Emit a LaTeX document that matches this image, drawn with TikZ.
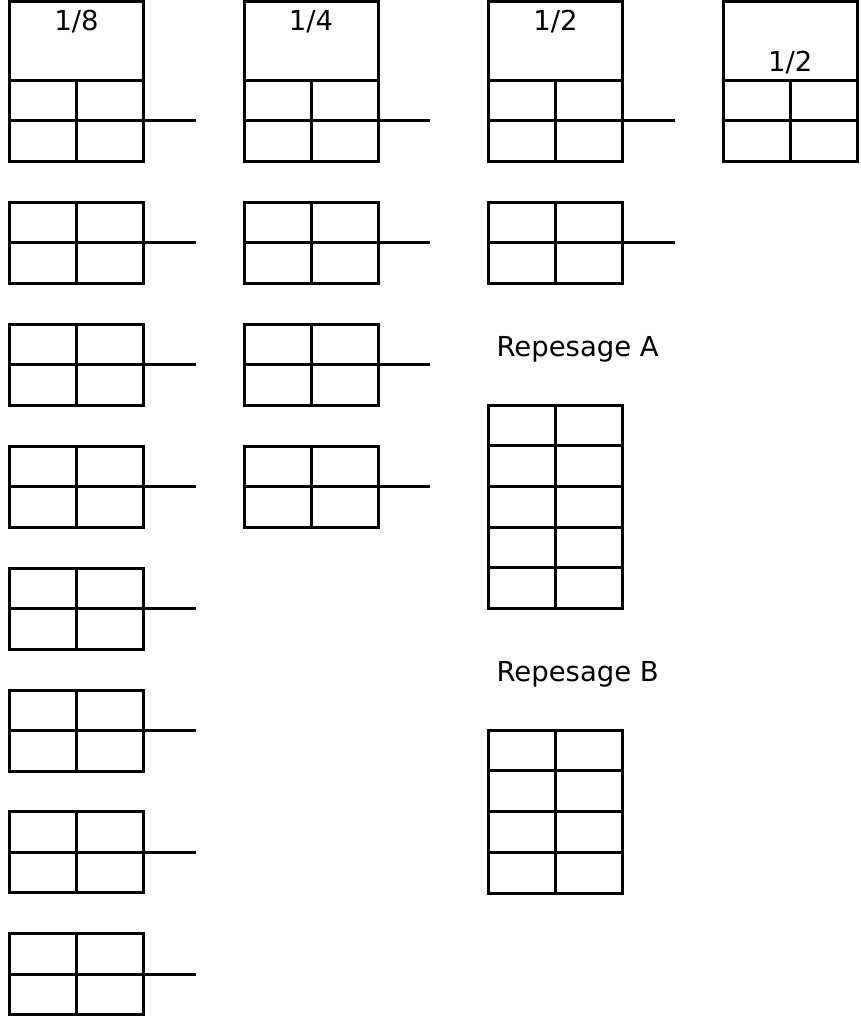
\documentclass[tikz,border=0pt]{standalone}
\usepackage{fontspec}
\setmainfont{DejaVu Sans}
\tikzset{
  gridline/.style={line width=3pt},
  lbl/.style={font=\fontsize{27.5}{33}\selectfont,inner sep=0pt,anchor=base},
}
\begin{document}
\begin{tikzpicture}[x=1pt,y=-1pt,gridline]
 \useasboundingbox (0,0) rectangle (861,1019);
 % headers
 \draw (9.5,2) rectangle (143.5,80.5);
 \node[lbl] (h8) at (76.5,30.5) {1/8};
 \draw (244,2) rectangle (378,80.5);
 \node[lbl] (h4) at (311,30.5) {1/4};
 \draw (488.5,2) rectangle (622.5,80.5);
 \node[lbl] (h2) at (555.5,30.5) {1/2};
 \draw (723.5,2) rectangle (857,80.5);
 \node[lbl] (h2f) at (790.2,72) {1/2};
 % pairs with their lines
 \foreach \x/\n in {9.5/8,244/4,488.5/2} {
  \foreach \k in {1,...,\n} {
   \pgfmathsetmacro\y{121+121.9*(\k-1)}
   \draw (\x,\y-40.5) rectangle (\x+134,\y+40.5);
   \draw (\x+67,\y-40.5) -- (\x+67,\y+40.5);
   \draw (\x,\y) -- (\x+186,\y);
  }
 }
 \draw (723.5,80.5) rectangle (857,161.5);
 \draw (790.2,80.5) -- (790.2,161.5);
 \draw (723.5,121) -- (857,121);
 % repesage A
 \node[lbl,anchor=base west] (repA) at (495,356) {Repesage A};
 \draw (488.5,405) rectangle (622.5,608.5);
 \draw (555.5,405) -- (555.5,608.5);
 \foreach \y in {445.7,486.4,527.1,567.8}
  \draw (488.5,\y) -- (622.5,\y);
 % repesage B
 \node[lbl,anchor=base west] (repB) at (495,681.5) {Repesage B};
 \draw (488.5,730) rectangle (622.5,893);
 \draw (555.5,730) -- (555.5,893);
 \foreach \y in {770.75,811.5,852.25}
  \draw (488.5,\y) -- (622.5,\y);
\end{tikzpicture}
\end{document}
